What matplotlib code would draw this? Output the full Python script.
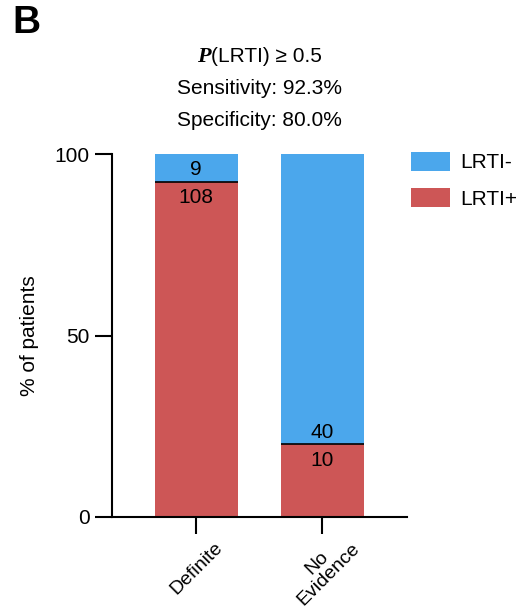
import numpy as np
import matplotlib.pyplot as plt

plt.rcParams['font.family'] = ['Liberation Sans', 'DejaVu Sans']

groups = ['Definite', 'No\nEvidence']
lrti_pos = np.array([108, 10])
lrti_neg = np.array([9, 40])
threshold_text = '(LRTI) ≥ 0.5'
sensitivity = 92.3
specificity = 80.0

blue = '#4ba7ec'
red = '#cd5656'
fs = 15

total = lrti_pos + lrti_neg
pos_pct = lrti_pos / total * 100
neg_pct = lrti_neg / total * 100

fig = plt.figure(figsize=(5.19, 6.08), dpi=100)
ax = fig.add_axes([112 / 519, 1 - 517 / 608, (407 - 112) / 519, (517 - 154) / 608])

x = np.arange(len(groups))
width = 0.655
ax.bar(x, pos_pct, width, color=red, label='LRTI+')
ax.bar(x, neg_pct, width, bottom=pos_pct, color=blue, label='LRTI-')
ax.hlines(pos_pct, x - width / 2, x + width / 2, color='black', lw=1.2)

# counts sit on either side of the split between the two segments
for xi, p, n_pos, n_neg in zip(x, pos_pct, lrti_pos, lrti_neg):
    ax.annotate(str(n_neg), (xi, p), xytext=(0, 2), textcoords='offset points',
                ha='center', va='bottom', fontsize=fs)
    ax.annotate(str(n_pos), (xi, p), xytext=(0, -4.5), textcoords='offset points',
                ha='center', va='top', fontsize=fs)

ax.set_xlim(-0.668, 1.67)
ax.set_ylim(0, 100)
ax.set_yticks([0, 50, 100])
ax.set_xticks(x)
# rotated labels are centred on a point below each tick
ax.set_xticklabels(groups, rotation=45, rotation_mode='anchor', ha='center', va='center',
                   multialignment='center', linespacing=0.95)
ax.tick_params(axis='both', length=12, width=1.5, labelsize=fs, pad=4)
ax.tick_params(axis='x', pad=25, labelsize=14)
for side in ['top', 'right']:
    ax.spines[side].set_visible(False)
for side in ['left', 'bottom']:
    ax.spines[side].set_linewidth(1.5)
ax.set_ylabel('% of patients', fontsize=fs, labelpad=11)

handles, labels = ax.get_legend_handles_labels()
ax.legend(handles[::-1], labels[::-1], loc='upper left', bbox_to_anchor=(411 / 519, 1 - 152 / 608),
          bbox_transform=fig.transFigure, frameon=False, fontsize=fs, borderpad=0,
          borderaxespad=0, handlelength=1.87, handleheight=1.0, handletextpad=0.5,
          labelspacing=0.75)

# header lines above the plot
cx = (112 + 407) / 2 / 519
fig.text(cx, 1 - 89 / 608, f'Sensitivity: {sensitivity:.1f}%', ha='center', va='center', fontsize=fs)
fig.text(cx, 1 - 120 / 608, f'Specificity: {specificity:.1f}%', ha='center', va='center', fontsize=fs)

rest = fig.text(0, 1 - 57 / 608, threshold_text, ha='left', va='center', fontsize=fs)
p_txt = fig.text(0, 1 - 57 / 608, 'P', ha='left', va='center', fontsize=fs + 1,
                 family='Liberation Serif', weight='bold', style='italic')
renderer = fig.canvas.get_renderer()
wp = p_txt.get_window_extent(renderer).width / fig.bbox.width
wr = rest.get_window_extent(renderer).width / fig.bbox.width
start = cx - (wp + wr) / 2
p_txt.set_x(start)
rest.set_x(start + wp)

fig.text(12 / 519, 1 - 23 / 608, 'B', ha='left', va='center', fontsize=28, weight='bold')

fig.savefig('out.png', dpi=100)
